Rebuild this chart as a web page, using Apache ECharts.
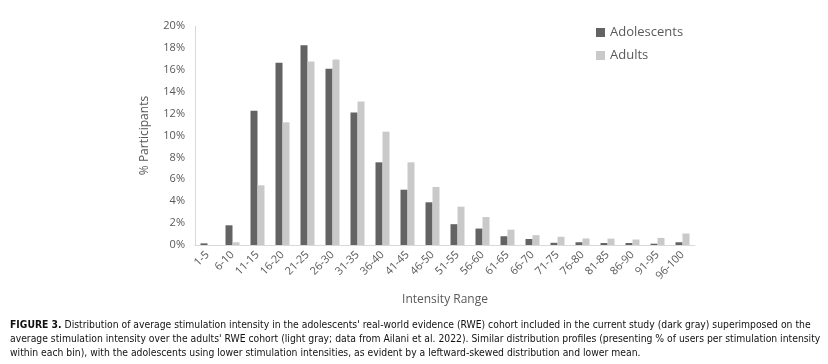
<!DOCTYPE html>
<html><head><meta charset="utf-8">
<script src="https://cdn.jsdelivr.net/npm/echarts@6/dist/echarts.min.js"></script>
<style>html,body{margin:0;padding:0;background:#fff}#c{width:828px;height:364px}</style>
</head><body><div id="c"></div>
<script>
var categories = ["1-5","6-10","11-15","16-20","21-25","26-30","31-35","36-40","41-45","46-50","51-55","56-60","61-65","66-70","71-75","76-80","81-85","86-90","91-95","96-100"];
var adolescents = [0.15,1.8,12.25,16.65,18.25,16.1,12.1,7.55,5.05,3.9,1.9,1.5,0.8,0.55,0.2,0.25,0.18,0.18,0.12,0.25];
var adults = [0,0.25,5.45,11.2,16.75,16.95,13.1,10.35,7.55,5.3,3.5,2.55,1.4,0.9,0.75,0.6,0.58,0.5,0.65,1.05];
var yTicks = [0,2,4,6,8,10,12,14,16,18,20];
var captionLines = [
  ["FIGURE 3.", " Distribution of average stimulation intensity in the adolescents' real-world evidence (RWE) cohort included in the current study (dark gray) superimposed on the"],
  ["", "average stimulation intensity over the adults' RWE cohort (light gray; data from Ailani et al. 2022). Similar distribution profiles (presenting % of users per stimulation intensity"],
  ["", "within each bin), with the adolescents using lower stimulation intensities, as evident by a leftward-skewed distribution and lower mean."]
];
var font = "'Open Sans', 'Liberation Sans', sans-serif";
var capFont = "'DejaVu Sans Condensed','Liberation Sans',sans-serif";
var chart = echarts.init(document.getElementById('c'));
var graphics = captionLines.map(function(l, i){
  return {type:'text', left:10, top:320 + i*14, style:{
    text: (l[0] ? '{b|' + l[0] + '}' : '') + '{n|' + l[1] + '}',
    rich:{b:{fontWeight:'bold', fontSize:10.3, fontFamily:capFont, fill:'#111'},
          n:{fontSize:10.3, fontFamily:capFont, fill:'#111'}}
  }};
});
chart.setOption({
  animation:false,
  textStyle:{fontFamily:font},
  grid:{left:195, right:133, top:26, bottom:119, containLabel:false},
  legend:{orient:'vertical', left:591, top:21, itemWidth:9, itemHeight:9, itemGap:10,
    icon:'rect', textStyle:{color:'#595959', fontSize:13, fontFamily:font},
    data:['Adolescents','Adults']},
  xAxis:{type:'category', data:categories, name:'Intensity Range', nameLocation:'middle', nameGap:49,
    nameTextStyle:{color:'#595959', fontSize:12},
    axisLine:{lineStyle:{color:'#d9d9d9'}}, axisTick:{show:false},
    axisLabel:{rotate:45, color:'#595959', fontSize:11, interval:0, margin:8}},
  yAxis:{type:'value', min:yTicks[0], max:yTicks[yTicks.length-1], interval:2,
    name:'% Participants', nameLocation:'middle', nameGap:44, nameRotate:90,
    nameTextStyle:{color:'#595959', fontSize:12},
    axisLine:{show:true, lineStyle:{color:'#d9d9d9'}}, axisTick:{show:false},
    splitLine:{show:false},
    axisLabel:{color:'#595959', fontSize:11, formatter:'{value}%', margin:10}},
  series:[
    {name:'Adolescents', type:'bar', data:adolescents, barWidth:7, barGap:'0%', itemStyle:{color:'#636363'}},
    {name:'Adults', type:'bar', data:adults, barWidth:7, barGap:'0%', itemStyle:{color:'#c9c9c9'}}
  ],
  graphic:graphics
});
</script></body></html>
